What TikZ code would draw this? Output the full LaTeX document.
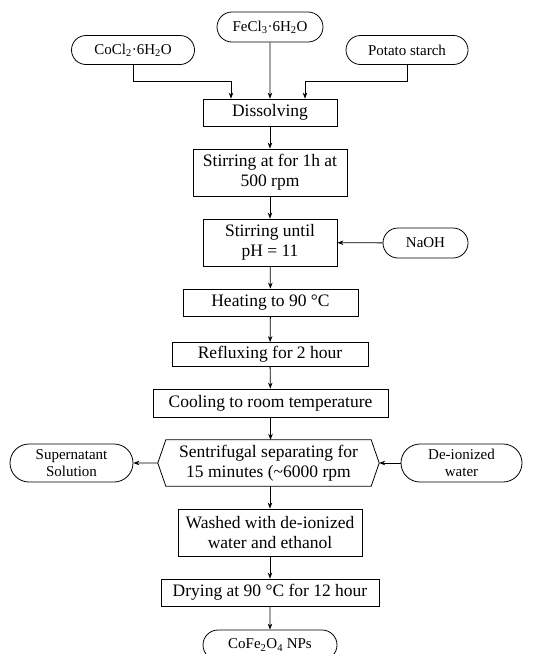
\documentclass[tikz,border=0pt]{standalone}
\usepackage{fontspec}
\setmainfont{Liberation Serif}
\usetikzlibrary{shapes.misc,arrows.meta}
\begin{document}
\begin{tikzpicture}[x=1pt,y=-1pt]
\tikzset{boite/.style={draw, line width=0.8pt, align=center, inner sep=0pt, font=\fontsize{17.5}{20}\selectfont},
  ovale/.style={draw, line width=0.8pt, rounded rectangle, align=center, inner sep=0pt, font=\fontsize{15}{17}\selectfont},
  fleche/.style={line width=0.8pt, -{Stealth[length=6pt,width=4.5pt]}}}
\useasboundingbox (0,0) rectangle (539,654);
% inputs
\node[ovale, minimum width=106, minimum height=30] (Fe) at (270,27) {FeCl\textsubscript{3}·6H\textsubscript{2}O};
\node[ovale, minimum width=123, minimum height=29] (Co) at (133,50) {CoCl\textsubscript{2}·6H\textsubscript{2}O};
\node[ovale, minimum width=122, minimum height=29] (Po) at (407,50) {Potato starch};
% main steps
\node[boite, minimum width=134, minimum height=27] (Di) at (270,112.5) {Dissolving};
\node[boite, minimum width=154, minimum height=47] (S1) at (270,172.5) {Stirring at for 1h at\\500 rpm};
\node[boite, minimum width=134, minimum height=47] (S2) at (270,242.5) {Stirring until\\pH = 11};
\node[ovale, minimum width=85, minimum height=30] (Na) at (425.5,243) {NaOH};
\node[boite, minimum width=175, minimum height=27] (He) at (270.5,302.5) {Heating to 90 °C};
\node[boite, minimum width=196, minimum height=24] (Re) at (270,354.5) {Refluxing for 2 hour};
\node[boite, minimum width=235, minimum height=28] (Cl) at (270.5,403) {Cooling to room temperature};
\node[align=center, inner sep=0pt, font=\fontsize{17.5}{20}\selectfont, minimum width=205, minimum height=46] (Se) at (268.5,463) {Sentrifugal separating for\\15 minutes (\textasciitilde 6000 rpm};
\coordinate (SeL) at ([xshift=-8pt]Se.west);
\coordinate (SeR) at ([xshift=8pt]Se.east);
\draw[line width=0.8pt] (Se.north west) -- (Se.north east) -- (SeR) -- (Se.south east) -- (Se.south west) -- (SeL) -- cycle;
\node[ovale, minimum width=123, minimum height=38] (Su) at (71.5,463) {Supernatant\\Solution};
\node[ovale, minimum width=121, minimum height=38] (Dw) at (461.5,463) {De-ionized\\water};
\node[boite, minimum width=184, minimum height=47] (Wa) at (270,532.5) {Washed with de-ionized\\water and ethanol};
\node[boite, minimum width=218, minimum height=27] (Dr) at (270,592.5) {Drying at 90 °C for 12 hour};
\node[ovale, minimum width=134, minimum height=30] (Np) at (270,645) {CoFe\textsubscript{2}O\textsubscript{4} NPs};
% connectors
\draw[fleche] (Fe) -- (Di);
\draw[fleche] (Co.south) -- ++(0,16.5) -| ([xshift=-39pt]Di.north);
\draw[fleche] (Po.south) -- ++(0,16.5) -| ([xshift=35pt]Di.north);
\draw[fleche] (Di) -- (S1);
\draw[fleche] (S1) -- (S2);
\draw[fleche] (Na) -- (S2);
\draw[fleche] (S2) -- (He);
\draw[fleche] (He) -- (Re);
\draw[fleche] (Re) -- (Cl);
\draw[fleche] (Cl.south) -- (Cl.south |- Se.north);
\draw[fleche] (SeL) -- (Su);
\draw[fleche] (Dw) -- (SeR);
\draw[fleche] (Se.south -| Wa.north) -- (Wa);
\draw[fleche] (Wa) -- (Dr);
\draw[fleche] (Dr) -- (Np);
\end{tikzpicture}
\end{document}
